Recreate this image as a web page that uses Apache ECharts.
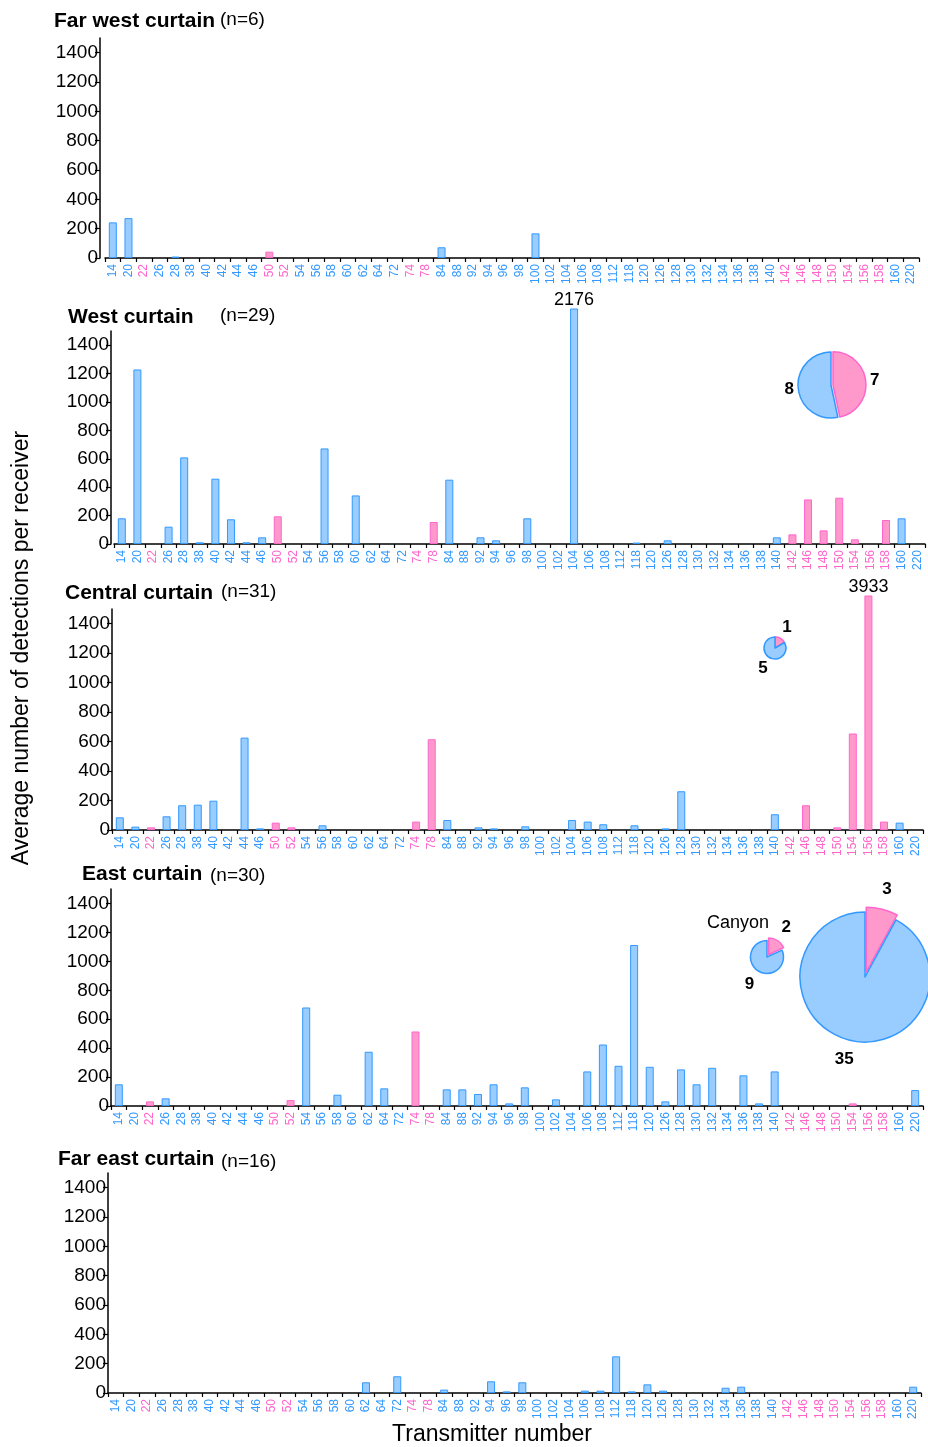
<!DOCTYPE html>
<html>
<head>
<meta charset="utf-8">
<script src="https://cdn.jsdelivr.net/npm/echarts@6/dist/echarts.min.js"></script>
<style>
  html, body { margin: 0; padding: 0; background: #ffffff; }
  #chart { width: 928px; height: 1447px; }
</style>
</head>
<body>
<div id="chart"></div>
<script>
// Transmitter numbers along every x axis
const transmitters = ['14','20','22','26','28','38','40','42','44','46',
  '50','52','54','56','58','60','62','64','72','74',
  '78','84','88','92','94','96','98','100','102','104',
  '106','108','112','118','120','126','128','130','132','134',
  '136','138','140','142','146','148','150','154','156','158',
  '160','220'];

// Transmitters drawn in pink (the rest are blue)
const pinkTransmitters = ['22','50','52','74','78','142','146','148','150','154','156','158'];

// Y tick labels shared by every panel
const yTicks = [0, 200, 400, 600, 800, 1000, 1200, 1400];

// Average detections per receiver, one array per curtain
const farWestValues = [243, 272, 0, 0, 10, 0, 0, 0, 0, 0,
  43, 0, 0, 0, 0, 0, 0, 0, 0, 0,
  0, 73, 0, 0, 0, 0, 0, 168, 0, 0,
  0, 0, 0, 0, 0, 0, 0, 0, 0, 0,
  0, 0, 0, 0, 0, 0, 0, 0, 0, 0,
  0, 0];
const westValues = [181, 1229, 0, 122, 610, 12, 460, 174, 12, 47,
  195, 0, 0, 673, 0, 342, 0, 0, 0, 0,
  155, 453, 0, 47, 26, 0, 181, 0, 0, 2176,
  0, 0, 0, 10, 0, 26, 0, 0, 0, 0,
  0, 0, 47, 68, 314, 96, 326, 33, 0, 169,
  181, 0];
const centralValues = [86, 23, 18, 93, 168, 172, 199, 0, 627, 11,
  50, 18, 0, 32, 0, 0, 0, 0, 0, 57,
  616, 68, 0, 18, 11, 0, 25, 0, 0, 68,
  57, 39, 0, 32, 0, 11, 263, 0, 0, 0,
  0, 0, 107, 0, 168, 0, 18, 655, 3933, 57,
  50, 0];
const eastValues = [150, 0, 32, 53, 0, 0, 0, 0, 0, 0,
  0, 41, 681, 0, 78, 0, 375, 122, 0, 515,
  0, 115, 115, 83, 150, 18, 129, 0, 46, 0,
  239, 425, 278, 1113, 271, 32, 253, 150, 264, 0,
  212, 18, 239, 0, 0, 0, 0, 18, 0, 0,
  0, 110];
const farEastValues = [0, 0, 0, 0, 0, 0, 0, 0, 0, 0,
  0, 0, 0, 0, 0, 0, 73, 0, 114, 0,
  0, 23, 0, 0, 80, 11, 73, 0, 0, 0,
  16, 16, 250, 11, 59, 16, 0, 0, 0, 36,
  43, 0, 0, 0, 0, 0, 0, 0, 0, 0,
  0, 43];

// Panel names and receiver counts
const curtainNames = ['Far west curtain', 'West curtain', 'Central curtain', 'East curtain', 'Far east curtain'];
const receiverCounts = ['(n=6)', '(n=29)', '(n=31)', '(n=30)', '(n=16)'];
const curtainValues = [farWestValues, westValues, centralValues, eastValues, farEastValues];

// Pie counts: [blue, pink]
const westPie = [8, 7];
const centralPie = [5, 1];
const canyonPie = [9, 2];
const eastPie = [35, 3];

// ---------- styling & layout ----------
const FONT = "'Liberation Sans', Arial, Helvetica, sans-serif";
const BLUE = { fill: '#99ccff', stroke: '#3399ff' };
const PINK = { fill: '#ff99cc', stroke: '#ff66cc' };
const AXIS_MAX = 1500;

// Plot-area geometry of each panel (pixels)
const panelLayout = [
  { left: 105, right: 9, axisX: 100, top: 38,  zero: 258,  clipTop: 38,  title: [54, 21],  n: [220, 20] },
  { left: 114, right: 3, axisX: 111, top: 331, zero: 544,  clipTop: 309, title: [68, 317], n: [220, 316] },
  { left: 112, right: 5, axisX: 112, top: 609, zero: 830,  clipTop: 596, title: [65, 593], n: [221, 592] },
  { left: 111, right: 5, axisX: 111, top: 889, zero: 1106, clipTop: 889, title: [82, 874], n: [210, 876] },
  { left: 108, right: 7, axisX: 108, top: 1173, zero: 1393, clipTop: 1173, title: [58, 1159], n: [221, 1162] }
];

// Pie placement
const pieLayout = [
  { counts: westPie,    center: [831, 385], r: 33, offset: 2, gap: 9 },
  { counts: centralPie, center: [775, 648], r: 11, offset: 0, gap: 13 },
  { counts: canyonPie,  center: [767, 957], r: 16.5, offset: 3, gap: 16 },
  { counts: eastPie,    center: [865, 977], r: 65, offset: 5, gap: 20 }
];

const isPink = t => pinkTransmitters.indexOf(t) >= 0;

const grids = [], xAxes = [], yAxes = [], series = [], graphics = [];

panelLayout.forEach((p, i) => {
  const dataGrid = i * 2, axisGrid = i * 2 + 1;
  const dataMax = AXIS_MAX * (p.zero - p.clipTop) / (p.zero - p.top);

  // grid holding the bars (may be taller to let big bars run past the axis)
  grids.push({ left: p.left, right: p.right, top: p.clipTop, height: p.zero - p.clipTop, containLabel: false });
  // grid holding the visible value axis
  grids.push({ left: p.left, right: p.right, top: p.top, height: p.zero - p.top, containLabel: false });

  xAxes.push({
    gridIndex: dataGrid, type: 'category', data: transmitters, boundaryGap: true,
    axisLine: { show: true, lineStyle: { color: '#000', width: 1.5 } },
    axisTick: { show: true, length: 4, interval: 0, lineStyle: { color: '#000', width: 1.2 } },
    axisLabel: {
      interval: 0, rotate: 90, margin: 6, fontSize: 12, fontFamily: FONT,
      color: (v) => isPink(v) ? PINK.stroke : BLUE.stroke
    },
    splitLine: { show: false }
  });
  xAxes.push({ gridIndex: axisGrid, type: 'category', data: transmitters, show: false });

  yAxes.push({ gridIndex: dataGrid, type: 'value', min: 0, max: dataMax, show: false, splitLine: { show: false } });
  yAxes.push({
    gridIndex: axisGrid, type: 'value', min: 0, max: AXIS_MAX,
    offset: p.left - p.axisX,
    axisLine: { show: true, lineStyle: { color: '#000', width: 1.5 } },
    axisTick: { show: true, length: 5, customValues: yTicks, lineStyle: { color: '#000', width: 1.2 } },
    axisLabel: { customValues: yTicks, formatter: (v) => String(v), color: '#000', fontSize: 19, fontFamily: FONT, margin: 2, padding: [6, 0, 0, 0] },
    splitLine: { show: false }
  });

  const values = curtainValues[i];
  series.push({
    type: 'bar', xAxisIndex: dataGrid, yAxisIndex: dataGrid,
    barWidth: 8, clip: true, animation: false, silent: true,
    data: values.map((v, k) => {
      const c = isPink(transmitters[k]) ? PINK : BLUE;
      const item = { value: v, itemStyle: { color: c.fill, borderColor: c.stroke, borderWidth: v > 0 ? 1 : 0 } };
      if (v > AXIS_MAX) {
        item.label = { show: true, position: 'top', distance: -1, formatter: '{c}', color: '#000', fontSize: 18, fontFamily: FONT };
      }
      return item;
    })
  });

  graphics.push({ type: 'text', x: p.title[0], y: p.title[1],
    style: { text: curtainNames[i], fill: '#000', font: 'bold 21px ' + FONT, textAlign: 'left', textVerticalAlign: 'middle' } });
  graphics.push({ type: 'text', x: p.n[0], y: p.n[1],
    style: { text: receiverCounts[i], fill: '#000', font: '19px ' + FONT, textAlign: 'left', textVerticalAlign: 'middle' } });
});

// Pies of blue / pink transmitter counts with their value labels
pieLayout.forEach((pl) => {
  const blue = pl.counts[0], pink = pl.counts[1], total = blue + pink;
  series.push({
    type: 'pie', center: pl.center, radius: pl.r, startAngle: 90, clockwise: true,
    selectedMode: 'single', selectedOffset: pl.offset, animation: false, silent: true,
    label: { show: false }, labelLine: { show: false }, avoidLabelOverlap: false,
    emphasis: { disabled: true },
    data: [
      { value: pink, selected: pl.offset > 0,
        itemStyle: { color: PINK.fill, borderColor: PINK.stroke, borderWidth: 1.5 },
        select: { itemStyle: { color: PINK.fill, borderColor: PINK.stroke, borderWidth: 1.5 } } },
      { value: blue,
        itemStyle: { color: BLUE.fill, borderColor: BLUE.stroke, borderWidth: 1.5 } }
    ]
  });
  const pinkMid = (pink / total) * Math.PI;
  const blueMid = (pink / total) * 2 * Math.PI + (blue / total) * Math.PI;
  [[pink, pinkMid, pl.offset], [blue, blueMid, 0]].forEach(([val, a, off]) => {
    const d = pl.r + pl.gap + off;
    graphics.push({ type: 'text',
      x: pl.center[0] + Math.sin(a) * d, y: pl.center[1] - Math.cos(a) * d,
      style: { text: String(val), fill: '#000', font: 'bold 17px ' + FONT, textAlign: 'center', textVerticalAlign: 'middle' } });
  });
});

graphics.push({ type: 'text', x: 738, y: 923,
  style: { text: 'Canyon', fill: '#000', font: '18px ' + FONT, textAlign: 'center', textVerticalAlign: 'middle' } });

// Shared axis titles
graphics.push({ type: 'text', x: 22, y: 648, rotation: Math.PI / 2,
  style: { text: 'Average number of detections per receiver', fill: '#000', font: '23px ' + FONT, textAlign: 'center', textVerticalAlign: 'middle' } });
graphics.push({ type: 'text', x: 492, y: 1435,
  style: { text: 'Transmitter number', fill: '#000', font: '23px ' + FONT, textAlign: 'center', textVerticalAlign: 'middle' } });

const chart = echarts.init(document.getElementById('chart'), null, { renderer: 'canvas' });
chart.setOption({
  backgroundColor: '#ffffff',
  animation: false,
  textStyle: { fontFamily: FONT },
  grid: grids,
  xAxis: xAxes,
  yAxis: yAxes,
  series: series,
  graphic: graphics
});
</script>
</body>
</html>
